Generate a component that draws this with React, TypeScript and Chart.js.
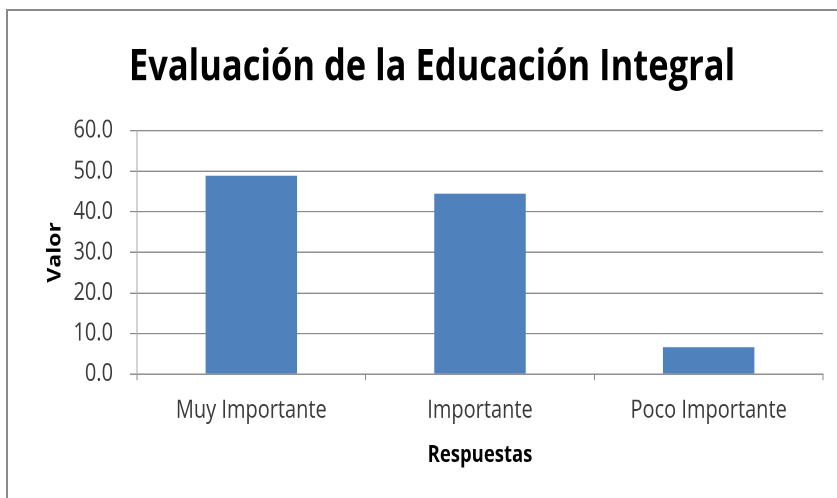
import React, { useEffect, useRef } from 'react';
import { Chart, registerables } from 'chart.js';

Chart.register(...registerables);

const chartTitle = 'Evaluación de la Educación Integral';
const categories = ['Muy Importante', 'Importante', 'Poco Importante'];
const values = [48.9, 44.5, 6.6];
const yAxisTitle = 'Valor';
const xAxisTitle = 'Respuestas';
const yMin = 0;
const yMax = 60;
const yStep = 10;

const W = 837;
const H = 400;
const SY = 498 / H;
const FONT = '"Open Sans", "Noto Sans", sans-serif';

export default function App() {
  const ref = useRef<HTMLCanvasElement>(null);

  useEffect(() => {
    const chart = new Chart(ref.current as HTMLCanvasElement, {
      type: 'bar',
      data: {
        labels: categories,
        datasets: [
          {
            data: values,
            backgroundColor: '#4F81BD',
            categoryPercentage: 1,
            barPercentage: 0.4,
          },
        ],
      },
      options: {
        animation: false,
        responsive: false,
        devicePixelRatio: 2,
        layout: { padding: { left: 41, right: 14, top: 0, bottom: 19.4 } },
        plugins: {
          legend: { display: false },
          tooltip: { enabled: false },
          title: {
            display: true,
            text: chartTitle,
            color: '#000',
            font: { family: FONT, size: 34.5, weight: 'bold', lineHeight: 1.2 },
            padding: { top: 33.8, bottom: 29.8 },
          },
        },
        scales: {
          x: {
            grid: {
              display: true,
              drawOnChartArea: false,
              drawTicks: true,
              tickLength: 5,
              color: '#8a8a8a',
            },
            border: { color: '#8a8a8a' },
            ticks: {
              color: '#3a3a3a',
              font: { family: FONT, size: 20 },
              padding: 12.6,
              maxRotation: 0,
            },
            title: {
              display: true,
              text: xAxisTitle,
              color: '#000',
              font: { family: FONT, size: 18.5, weight: 'bold' },
              padding: { top: 0, bottom: 4 },
            },
            afterFit: (s: any) => {
              s.height = 80.2;
            },
          },
          y: {
            min: yMin,
            max: yMax,
            ticks: {
              stepSize: yStep,
              callback: (v: any) => Number(v).toFixed(1),
              color: '#3a3a3a',
              font: { family: FONT, size: 20 },
              padding: 17,
            },
            grid: { color: '#8a8a8a', tickLength: 7 },
            border: { color: '#a8a8a8' },
            title: {
              display: true,
              text: yAxisTitle,
              color: '#000',
              font: { family: FONT, size: 18.5, weight: 'bold' },
              padding: { top: 3, bottom: 0 },
            },
            afterFit: (s: any) => {
              s.width = 96;
            },
          },
        },
      },
    } as any);
    return () => chart.destroy();
  }, []);

  return (
    <div
      style={{
        position: 'absolute',
        left: 0,
        top: 0,
        width: W,
        height: 498,
        overflow: 'hidden',
        background: '#fff',
      }}
    >
      <div
        style={{
          position: 'absolute',
          left: 0,
          top: 0,
          width: W,
          height: H,
          transform: `scale(1, ${SY})`,
          transformOrigin: '0 0',
        }}
      >
        <canvas ref={ref} width={W} height={H} />
      </div>
      <div
        style={{
          position: 'absolute',
          left: 6,
          top: 9,
          width: 900,
          height: 600,
          border: '2px solid #8a8a8a',
          boxSizing: 'border-box',
        }}
      />
    </div>
  );
}
